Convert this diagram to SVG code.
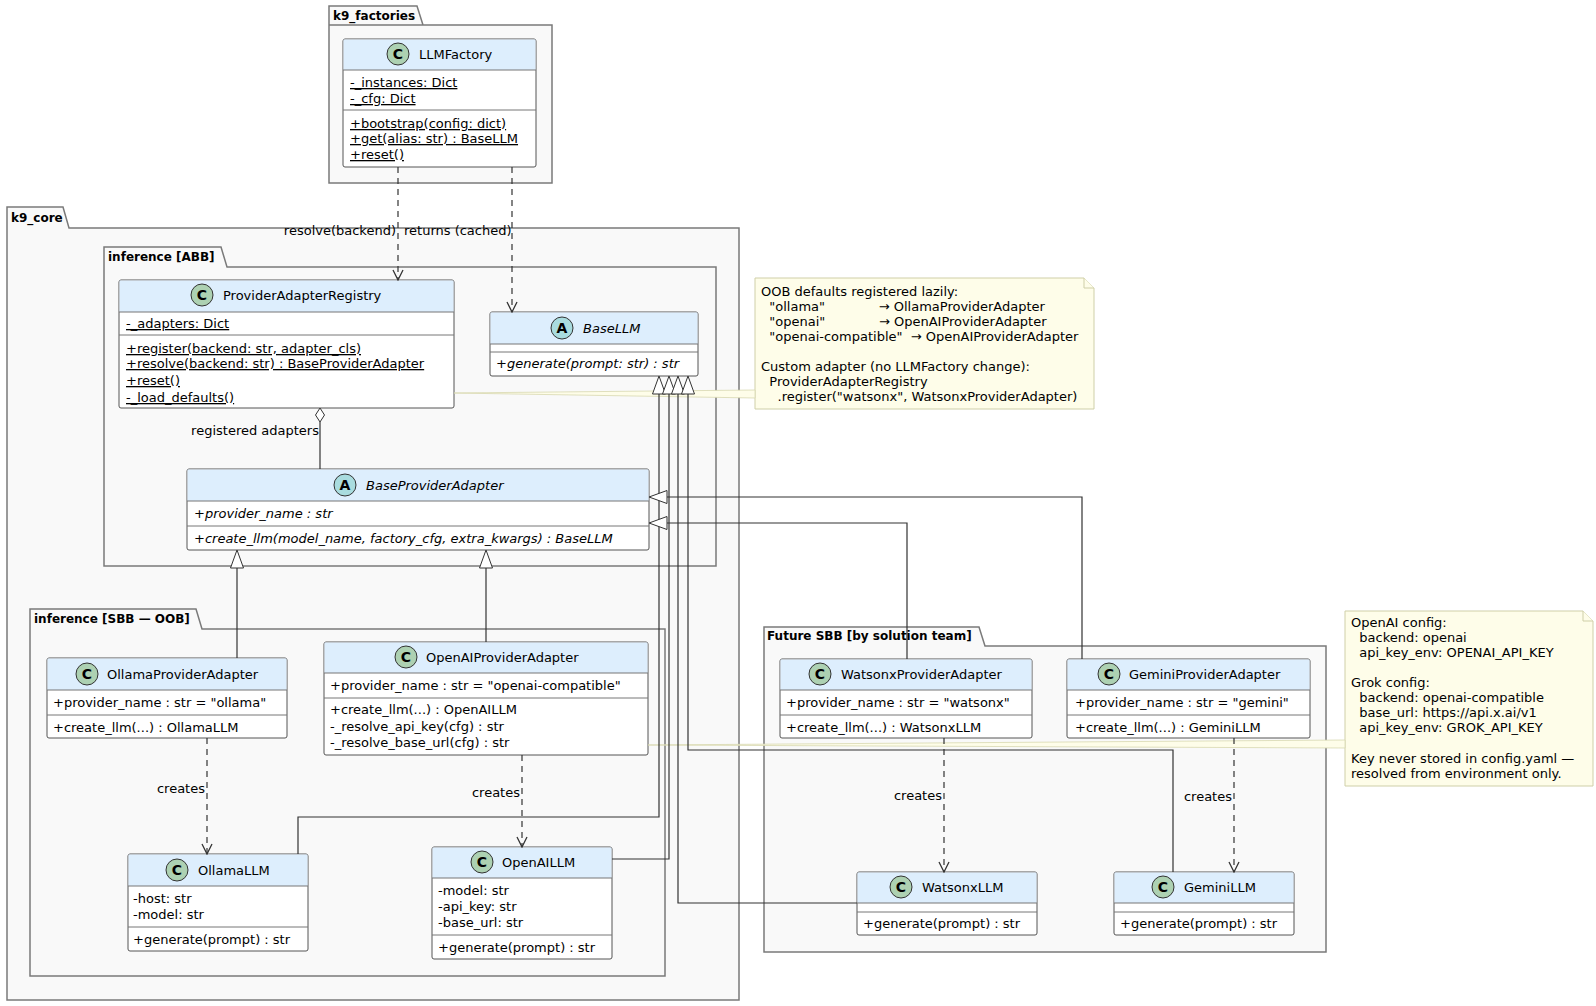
<svg xmlns="http://www.w3.org/2000/svg" width="1596" height="1006" viewBox="0 0 1596 1006">
<style>
text{font-family:"DejaVu Sans","Liberation Sans",sans-serif;font-size:13px;fill:#000}
.pk{fill:#F9F9F9;stroke:#7A7A7A;stroke-width:1.5}
.pt{font-weight:bold;font-size:12px}
.box{fill:#fff;stroke:#555;stroke-width:1}
.hd{fill:#DDEEFD;stroke:none}
.sep{stroke:#777;stroke-width:1}
.u{text-decoration:underline}
.i{font-style:italic}
.ic{stroke:#333;stroke-width:1}
.icl{font-weight:bold;font-size:14px;text-anchor:middle}
.ln{fill:none;stroke:#333;stroke-width:1.2}
.dl{fill:none;stroke:#333;stroke-width:1.2;stroke-dasharray:6,5}
.tri{fill:#fff;stroke:#333;stroke-width:1}
.note{fill:#FEFDE9;stroke:#CFCFA8;stroke-width:1}
.nl{fill:#FEFDE9;stroke:#D8D8B0;stroke-width:0.8}
</style>
<defs>
<marker id="ar" viewBox="0 0 12 12" refX="11" refY="6" markerWidth="12" markerHeight="12" orient="auto" markerUnits="userSpaceOnUse"><path d="M1,1 L11,6 L1,11" fill="none" stroke="#333" stroke-width="1.3"/></marker>
</defs>

<g id="pkg_k9_factories">
<path class="pk" d="M329,25 V6 H417 L423,25 M329,25 H552 V183 H329 Z"/>
<text class="pt" x="333" y="20">k9_factories</text>
</g>
<g id="pkg_k9_core">
<path class="pk" d="M7,228 V207 H63 L69,228 H739 V1000 H7 Z"/>
<text class="pt" x="11" y="222">k9_core</text>
</g>
<g id="pkg_abb">
<path class="pk" d="M104,267 V247 H221 L227,267 H716 V566 H104 Z"/>
<text class="pt" x="108" y="261">inference  [ABB]</text>
</g>
<g id="pkg_sbb">
<path class="pk" d="M30,629 V609 H196 L202,629 H665 V976 H30 Z"/>
<text class="pt" x="34" y="623">inference  [SBB — OOB]</text>
</g>
<g id="pkg_future">
<path class="pk" d="M764,646 V627 H979 L985,646 H1326 V952 H764 Z"/>
<text class="pt" x="767" y="640">Future SBB  [by solution team]</text>
</g>

<g id="LLMFactory">
<rect class="box" x="343" y="39" width="193" height="128" rx="2"/>
<rect class="hd" x="343.5" y="39.5" width="192" height="30.5"/>
<line class="sep" x1="343" y1="70" x2="536" y2="70"/>
<circle class="ic" cx="398" cy="54" r="11" fill="#ADD1B2"/><text class="icl" x="398" y="59">C</text>
<text x="419" y="59">LLMFactory</text>
<text class="u" x="350" y="87">-_instances: Dict</text>
<text class="u" x="350" y="103">-_cfg: Dict</text>
<line class="sep" x1="343" y1="110" x2="536" y2="110"/>
<text class="u" x="350" y="128">+bootstrap(config: dict)</text>
<text class="u" x="350" y="143">+get(alias: str) : BaseLLM</text>
<text class="u" x="350" y="159">+reset()</text>
</g>

<g id="ProviderAdapterRegistry">
<rect class="box" x="119" y="280" width="335" height="128" rx="2"/>
<rect class="hd" x="119.5" y="280.5" width="334" height="31.5"/>
<line class="sep" x1="119" y1="312" x2="454" y2="312"/>
<circle class="ic" cx="202" cy="295" r="11" fill="#ADD1B2"/><text class="icl" x="202" y="300">C</text>
<text x="223" y="300">ProviderAdapterRegistry</text>
<text class="u" x="126" y="328">-_adapters: Dict</text>
<line class="sep" x1="119" y1="335" x2="454" y2="335"/>
<text class="u" x="126" y="353">+register(backend: str, adapter_cls)</text>
<text class="u" x="126" y="368">+resolve(backend: str) : BaseProviderAdapter</text>
<text class="u" x="126" y="385">+reset()</text>
<text class="u" x="126" y="402">-_load_defaults()</text>
</g>

<g id="BaseLLM">
<rect class="box" x="490" y="312" width="208" height="64" rx="2"/>
<rect class="hd" x="490.5" y="312.5" width="207" height="31.5"/>
<line class="sep" x1="490" y1="344" x2="698" y2="344"/>
<line class="sep" x1="490" y1="352" x2="698" y2="352"/>
<circle class="ic" cx="562" cy="328" r="11" fill="#A9DCDF"/><text class="icl" x="562" y="333">A</text>
<text class="i" x="583" y="333">BaseLLM</text>
<text class="i" x="496" y="368">+generate(prompt: str) : str</text>
</g>

<g id="BaseProviderAdapter">
<rect class="box" x="187" y="469" width="462" height="81" rx="2"/>
<rect class="hd" x="187.5" y="469.5" width="461" height="31.5"/>
<line class="sep" x1="187" y1="501" x2="649" y2="501"/>
<circle class="ic" cx="345" cy="485" r="11" fill="#A9DCDF"/><text class="icl" x="345" y="490">A</text>
<text class="i" x="366" y="490">BaseProviderAdapter</text>
<text class="i" x="194" y="518">+provider_name : str</text>
<line class="sep" x1="187" y1="526" x2="649" y2="526"/>
<text class="i" x="194" y="543">+create_llm(model_name, factory_cfg, extra_kwargs) : BaseLLM</text>
</g>

<g id="OllamaProviderAdapter">
<rect class="box" x="47" y="658" width="240" height="80" rx="2"/>
<rect class="hd" x="47.5" y="658.5" width="239" height="31.5"/>
<line class="sep" x1="47" y1="690" x2="287" y2="690"/>
<circle class="ic" cx="87" cy="674" r="11" fill="#ADD1B2"/><text class="icl" x="87" y="679">C</text>
<text x="107" y="679">OllamaProviderAdapter</text>
<text x="53" y="707">+provider_name : str = "ollama"</text>
<line class="sep" x1="47" y1="715" x2="287" y2="715"/>
<text x="53" y="732">+create_llm(...) : OllamaLLM</text>
</g>

<g id="OpenAIProviderAdapter">
<rect class="box" x="324" y="642" width="324" height="113" rx="2"/>
<rect class="hd" x="324.5" y="642.5" width="323" height="30.5"/>
<line class="sep" x1="324" y1="673" x2="648" y2="673"/>
<circle class="ic" cx="406" cy="657" r="11" fill="#ADD1B2"/><text class="icl" x="406" y="662">C</text>
<text x="426" y="662">OpenAIProviderAdapter</text>
<text x="330" y="690">+provider_name : str = "openai-compatible"</text>
<line class="sep" x1="324" y1="698" x2="648" y2="698"/>
<text x="330" y="714">+create_llm(...) : OpenAILLM</text>
<text x="330" y="731">-_resolve_api_key(cfg) : str</text>
<text x="330" y="747">-_resolve_base_url(cfg) : str</text>
</g>

<g id="OllamaLLM">
<rect class="box" x="128" y="854" width="180" height="97" rx="2"/>
<rect class="hd" x="128.5" y="854.5" width="179" height="31.5"/>
<line class="sep" x1="128" y1="886" x2="308" y2="886"/>
<circle class="ic" cx="177" cy="870" r="11" fill="#ADD1B2"/><text class="icl" x="177" y="875">C</text>
<text x="198" y="875">OllamaLLM</text>
<text x="133" y="903">-host: str</text>
<text x="133" y="919">-model: str</text>
<line class="sep" x1="128" y1="927" x2="308" y2="927"/>
<text x="133" y="944">+generate(prompt) : str</text>
</g>

<g id="OpenAILLM">
<rect class="box" x="432" y="847" width="180" height="112" rx="2"/>
<rect class="hd" x="432.5" y="847.5" width="179" height="30.5"/>
<line class="sep" x1="432" y1="878" x2="612" y2="878"/>
<circle class="ic" cx="482" cy="862" r="11" fill="#ADD1B2"/><text class="icl" x="482" y="867">C</text>
<text x="502" y="867">OpenAILLM</text>
<text x="438" y="895">-model: str</text>
<text x="438" y="911">-api_key: str</text>
<text x="438" y="927">-base_url: str</text>
<line class="sep" x1="432" y1="935" x2="612" y2="935"/>
<text x="438" y="952">+generate(prompt) : str</text>
</g>

<g id="WatsonxProviderAdapter">
<rect class="box" x="780" y="659" width="252" height="79" rx="2"/>
<rect class="hd" x="780.5" y="659.5" width="251" height="30.5"/>
<line class="sep" x1="780" y1="690" x2="1032" y2="690"/>
<circle class="ic" cx="820" cy="674" r="11" fill="#ADD1B2"/><text class="icl" x="820" y="679">C</text>
<text x="841" y="679">WatsonxProviderAdapter</text>
<text x="786" y="707">+provider_name : str = "watsonx"</text>
<line class="sep" x1="780" y1="715" x2="1032" y2="715"/>
<text x="786" y="732">+create_llm(...) : WatsonxLLM</text>
</g>

<g id="GeminiProviderAdapter">
<rect class="box" x="1067" y="659" width="243" height="79" rx="2"/>
<rect class="hd" x="1067.5" y="659.5" width="242" height="30.5"/>
<line class="sep" x1="1067" y1="690" x2="1310" y2="690"/>
<circle class="ic" cx="1109" cy="674" r="11" fill="#ADD1B2"/><text class="icl" x="1109" y="679">C</text>
<text x="1129" y="679">GeminiProviderAdapter</text>
<text x="1075" y="707">+provider_name : str = "gemini"</text>
<line class="sep" x1="1067" y1="715" x2="1310" y2="715"/>
<text x="1075" y="732">+create_llm(...) : GeminiLLM</text>
</g>

<g id="WatsonxLLM">
<rect class="box" x="857" y="872" width="180" height="63" rx="2"/>
<rect class="hd" x="857.5" y="872.5" width="179" height="30.5"/>
<line class="sep" x1="857" y1="903" x2="1037" y2="903"/>
<line class="sep" x1="857" y1="912" x2="1037" y2="912"/>
<circle class="ic" cx="901" cy="887" r="11" fill="#ADD1B2"/><text class="icl" x="901" y="892">C</text>
<text x="922" y="892">WatsonxLLM</text>
<text x="863" y="928">+generate(prompt) : str</text>
</g>

<g id="GeminiLLM">
<rect class="box" x="1114" y="872" width="180" height="63" rx="2"/>
<rect class="hd" x="1114.5" y="872.5" width="179" height="30.5"/>
<line class="sep" x1="1114" y1="903" x2="1294" y2="903"/>
<line class="sep" x1="1114" y1="912" x2="1294" y2="912"/>
<circle class="ic" cx="1163" cy="887" r="11" fill="#ADD1B2"/><text class="icl" x="1163" y="892">C</text>
<text x="1184" y="892">GeminiLLM</text>
<text x="1120" y="928">+generate(prompt) : str</text>
</g>

<g id="note_registry">
<path class="note" d="M755,278 H1084 L1094,288 V409 H755 Z"/>
<path class="note" d="M1084,278 V288 H1094"/>
<text xml:space="preserve" x="761" y="296">OOB defaults registered lazily:</text>
<text xml:space="preserve" x="761" y="311">  "ollama"             → OllamaProviderAdapter</text>
<text xml:space="preserve" x="761" y="326">  "openai"             → OpenAIProviderAdapter</text>
<text xml:space="preserve" x="761" y="341">  "openai-compatible"  → OpenAIProviderAdapter</text>
<text xml:space="preserve" x="761" y="371">Custom adapter (no LLMFactory change):</text>
<text xml:space="preserve" x="761" y="386">  ProviderAdapterRegistry</text>
<text xml:space="preserve" x="761" y="401">    .register("watsonx", WatsonxProviderAdapter)</text>
</g>

<g id="note_config">
<path class="note" d="M1345,611 H1583 L1593,621 V786 H1345 Z"/>
<path class="note" d="M1583,611 V621 H1593"/>
<text xml:space="preserve" x="1351" y="627">OpenAI config:</text>
<text xml:space="preserve" x="1351" y="642">  backend: openai</text>
<text xml:space="preserve" x="1351" y="657">  api_key_env: OPENAI_API_KEY</text>
<text xml:space="preserve" x="1351" y="687">Grok config:</text>
<text xml:space="preserve" x="1351" y="702">  backend: openai-compatible</text>
<text xml:space="preserve" x="1351" y="717">  base_url: https://api.x.ai/v1</text>
<text xml:space="preserve" x="1351" y="732">  api_key_env: GROK_API_KEY</text>
<text xml:space="preserve" x="1351" y="763">Key never stored in config.yaml —</text>
<text xml:space="preserve" x="1351" y="778">resolved from environment only.</text>
</g>

<g id="connectors">
<path class="dl" d="M398,167 V280" marker-end="url(#ar)"/>
<text x="396" y="235" text-anchor="end">resolve(backend)</text>
<path class="dl" d="M512,167 V312" marker-end="url(#ar)"/>
<text x="404" y="235">returns (cached)</text>

<path class="nl" d="M454,393 L755,390 V398 Z"/>
<path class="nl" d="M648,745 L1345,740 V748 Z"/>

<path class="ln" d="M320,422 V469"/>
<path class="tri" d="M320,408 L324.5,415 L320,422 L315.5,415 Z"/>
<text x="319" y="435" text-anchor="end">registered adapters</text>

<path class="ln" d="M659,394 V817 H298 V854"/>
<path class="ln" d="M669,394 V859 H612"/>
<path class="ln" d="M678,394 V903 H857"/>
<path class="ln" d="M688,394 V750 H1173 V872"/>
<path class="tri" d="M659,376 L652.5,394 H665.5 Z"/>
<path class="tri" d="M669,376 L662.5,394 H675.5 Z"/>
<path class="tri" d="M678,376 L671.5,394 H684.5 Z"/>
<path class="tri" d="M688,376 L681.5,394 H694.5 Z"/>

<path class="ln" d="M1082,659 V497 H667"/>
<path class="tri" d="M649,497 L667,490.5 V503.5 Z"/>
<path class="ln" d="M907,659 V523 H667"/>
<path class="tri" d="M649,523 L667,516.5 V529.5 Z"/>

<path class="ln" d="M237,658 V568"/>
<path class="tri" d="M237,550 L230.5,568 H243.5 Z"/>
<path class="ln" d="M486,642 V568"/>
<path class="tri" d="M486,550 L479.5,568 H492.5 Z"/>

<path class="dl" d="M207,738 V854" marker-end="url(#ar)"/>
<text x="205" y="793" text-anchor="end">creates</text>
<path class="dl" d="M522,755 V847" marker-end="url(#ar)"/>
<text x="520" y="797" text-anchor="end">creates</text>
<path class="dl" d="M944,738 V872" marker-end="url(#ar)"/>
<text x="942" y="800" text-anchor="end">creates</text>
<path class="dl" d="M1234,738 V872" marker-end="url(#ar)"/>
<text x="1232" y="801" text-anchor="end">creates</text>
</g>
</svg>
